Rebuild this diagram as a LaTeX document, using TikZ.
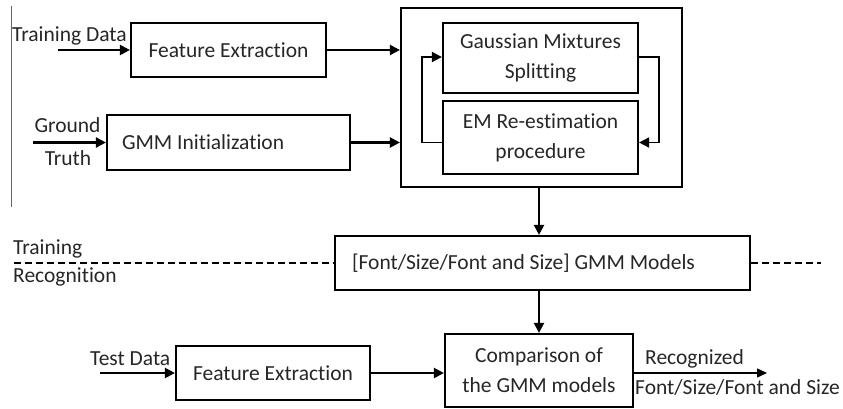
\documentclass[tikz,border=0pt]{standalone}
\usepackage{fontspec}
\setmainfont{Carlito}[Ligatures={NoCommon,NoContextual}]
\usetikzlibrary{arrows.meta,calc}
\begin{document}
\begin{tikzpicture}[x=1pt,y=-1pt,
  blk/.style={draw, line width=2.2pt, inner sep=0pt, align=center, font=\fontsize{21.5}{30}\selectfont, text=black!85},
  lbl/.style={inner sep=0pt, font=\fontsize{21.5}{30}\selectfont, text=black!85},
  arr/.style={line width=2.2pt, -{Triangle[length=10pt,width=10pt]}},
  looparr/.style={line width=1.8pt, -{Triangle[length=10pt,width=10pt]}},
  thinarr/.style={line width=1.4pt, -{Triangle[length=10pt,width=9pt]}},
  sep/.style={line width=2pt, dash pattern=on 7pt off 4pt}]
\useasboundingbox (0,0) rectangle (843,409);
% boxes
\node[blk, minimum width=195, minimum height=54] (fe1) at (228.5,50) {Feature Extraction};
\node[blk, minimum width=243, minimum height=55, text width=213, inner xsep=15pt, align=flush left] (gi) at (228.5,142.5) {GMM Initialization};
\node[blk, minimum width=281, minimum height=179] (big) at (541.5,97.5) {};
\node[blk, minimum width=195, minimum height=70] (gms) at (540.5,58) {Gaussian Mixtures\\Splitting};
\node[blk, minimum width=195, minimum height=73] (em) at (540.5,137.5) {EM Re-estimation\\procedure};
\node[blk, minimum width=415, minimum height=54, text width=381, inner xsep=17pt, align=flush left] (gmm) at (542.5,263) {\relax[Font/Size/Font and Size] GMM Models};
\node[blk, minimum width=188, minimum height=73] (cmp) at (539,370.5) {Comparison of\\the GMM models};
\node[blk, minimum width=194, minimum height=54] (fe2) at (273,373) {Feature Extraction};
% labels
\node[lbl, anchor=base west] (ltd) at (12,42) {Training Data};
\node[lbl, anchor=base] (lg) at (67.5,133) {Ground};
\node[lbl, anchor=base] (lt) at (68,165) {Truth};
\node[lbl, anchor=base west] (ltest) at (90,365) {Test Data};
\node[lbl, anchor=base west] (ltr) at (13,254) {Training};
\node[lbl, anchor=base west] (lrec) at (13,282) {Recognition};
\node[lbl, anchor=base west] (lrz) at (645,364) {Recognized};
\node[lbl, anchor=base west] (lfs) at (635,394) {Font/Size/Font and Size};
% free ends
\coordinate (tdin) at (58,50);
\coordinate (gtin) at (33,142.5);
\coordinate (testin) at (100,373);
\coordinate (out) at (767,373);
\coordinate (dl) at (14,263);
\coordinate (dr) at (821,263);
\coordinate (vt) at (11,6);
\coordinate (vb) at (11,207);
\coordinate (gy) at (0,57);
\coordinate (ey) at (0,142.5);
% left rule
\draw[line width=1pt, black!60] (vt) -- (vb);
% connectors
\draw[arr] (tdin) -- (fe1.west);
\draw[arr] (fe1.east) -- (fe1.east -| big.west);
\draw[arr] (gtin) -- (gi.west);
\draw[arr] (gi.east) -- (gi.east -| big.west);
\draw[looparr] (em.west |- ey) -- ++(-20,0) |- (gms.west |- gy);
\draw[looparr] (gms.east |- gy) -- ++(20,0) |- (em.east |- ey);
\draw[arr] (big.south -| cmp.north) -- (gmm.north -| cmp.north);
\draw[arr] (gmm.south -| cmp.north) -- (cmp.north);
\draw[arr] (testin) -- (fe2.west);
\draw[arr] (fe2.east) -- (fe2.east -| cmp.west);
\draw[thinarr] (cmp.east |- out) -- (out);
\draw[sep] (dl) -- (gmm.west);
\draw[sep] (gmm.east) -- (dr);
\end{tikzpicture}
\end{document}
